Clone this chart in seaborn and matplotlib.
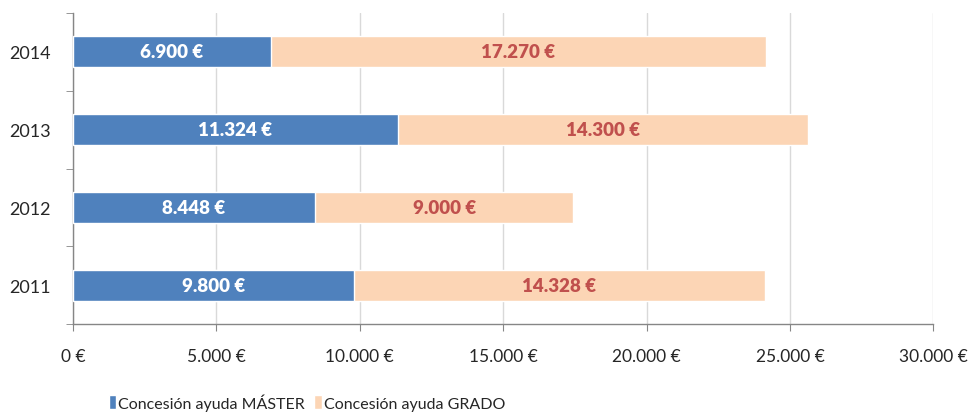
import numpy as np
import pandas as pd
import matplotlib
matplotlib.use('Agg')
import matplotlib.pyplot as plt
from matplotlib.ticker import FuncFormatter, FixedLocator
from matplotlib import font_manager
import seaborn as sns

# Datos
years = ['2014', '2013', '2012', '2011']
master = [6900, 11324, 8448, 9800]
grado = [17270, 14300, 9000, 14328]
label_master = 'Concesión ayuda MÁSTER'
label_grado = 'Concesión ayuda GRADO'

df = pd.DataFrame({'year': years, 'master': master, 'grado': grado})
df['total'] = df['master'] + df['grado']

sns.set_style('white')
names = {f.name for f in font_manager.fontManager.ttflist}
fam = 'Liberation Sans Narrow' if 'Liberation Sans Narrow' in names else 'Lato'
plt.rcParams['font.family'] = [fam, 'DejaVu Sans']

blue = '#4F81BD'
peach = '#FCD5B5'
red_txt = '#C0504D'

fig = plt.figure(figsize=(9.69, 4.14), dpi=100)
ax = fig.add_axes([0.0753, 0.215, 0.888, 0.751])

# apilado: barra total (color grado) y encima la de master
sns.barplot(data=df, y='year', x='total', order=years, color=peach, width=0.4,
            orient='h', ax=ax, saturation=1, label=label_grado, zorder=2)
sns.barplot(data=df, y='year', x='master', order=years, color=blue, width=0.4,
            orient='h', ax=ax, saturation=1, label=label_master, zorder=3)

def eur(v):
    return f'{int(v):,}'.replace(',', '.') + ' €'

for i, row in df.iterrows():
    ax.text(row['master'] / 2, i, eur(row['master']), ha='center', va='center',
            color='white', fontweight='heavy', fontsize=13.5, zorder=4)
    ax.text(row['master'] + row['grado'] / 2, i, eur(row['grado']), ha='center',
            va='center', color=red_txt, fontweight='heavy', fontsize=13.5, zorder=4)

ax.set_xlim(0, 30000)
ax.set_ylim(3.5, -0.5)
ax.set_xticks(np.arange(0, 30001, 5000))
ax.xaxis.set_major_formatter(FuncFormatter(lambda v, p: eur(v) if v else '0 €'))
ax.set_xlabel('')
ax.set_ylabel('')
ax.grid(axis='x', color='#D9D9D9', linewidth=1, zorder=0)
ax.set_axisbelow(True)

ax.yaxis.set_minor_locator(FixedLocator(np.arange(-0.5, 4, 1)))
ax.tick_params(axis='y', which='major', length=0, pad=16, labelsize=13)
ax.tick_params(axis='y', which='minor', length=5, color='#868686', direction='out', left=True)
ax.tick_params(axis='x', which='major', length=5, color='#868686', direction='out',
               bottom=True, pad=12, labelsize=12.5)

for s in ['top', 'right']:
    ax.spines[s].set_visible(False)
for s in ['left', 'bottom']:
    ax.spines[s].set_color('#868686')
    ax.spines[s].set_linewidth(1)

if ax.get_legend():
    ax.get_legend().remove()
handles, labels = ax.get_legend_handles_labels()
order = [labels.index(label_master), labels.index(label_grado)]
fig.legend([handles[k] for k in order], [labels[k] for k in order],
           loc='center left', bbox_to_anchor=(0.112, 0.027), ncol=2, frameon=False,
           fontsize=11.5, handlelength=0.45, handleheight=0.9, handletextpad=0.15,
           columnspacing=0.6, borderpad=0, borderaxespad=0)

fig.savefig('out.png', dpi=100)
